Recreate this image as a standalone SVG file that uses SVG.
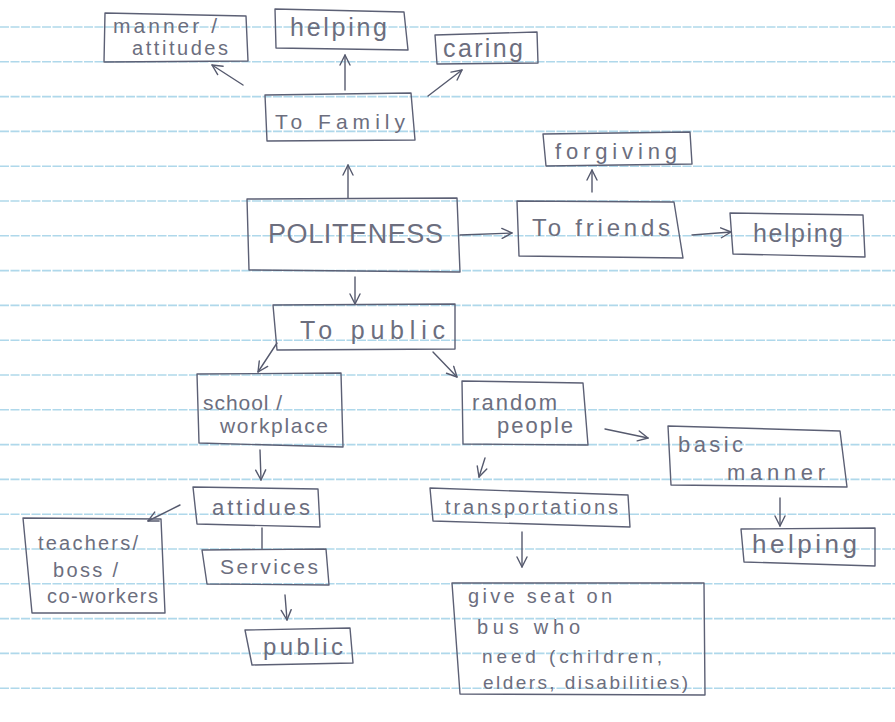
<svg xmlns="http://www.w3.org/2000/svg" width="895" height="722" viewBox="0 0 895 722">
<defs>
<style>
.paper{stroke:#a2d2e8;stroke-width:1.6;stroke-dasharray:9 1.5;opacity:.85}
.box{fill:none;stroke:#5c6075;stroke-width:1.4;stroke-linejoin:round}
.t{font-family:"Liberation Sans","DejaVu Sans",sans-serif;fill:#6c6e7e}
.c{fill:none;stroke:#565a6e;stroke-width:1.4;stroke-linecap:round}
</style>
<marker id="ah" viewBox="0 0 12 12" refX="11" refY="6" markerWidth="12" markerHeight="12" markerUnits="userSpaceOnUse" orient="auto">
<path d="M1,1 L11,6 L1,11" fill="none" stroke="#565a6e" stroke-width="1.4" stroke-linecap="round" stroke-linejoin="round"/>
</marker>
</defs>
<rect x="0" y="0" width="895" height="722" fill="#ffffff"/>
<g id="paper-lines">
<line class="paper" x1="0" y1="27" x2="895" y2="27"/>
<line class="paper" x1="0" y1="61.8" x2="895" y2="61.8"/>
<line class="paper" x1="0" y1="96.6" x2="895" y2="96.6"/>
<line class="paper" x1="0" y1="131.4" x2="895" y2="131.4"/>
<line class="paper" x1="0" y1="166.2" x2="895" y2="166.2"/>
<line class="paper" x1="0" y1="201" x2="895" y2="201"/>
<line class="paper" x1="0" y1="235.8" x2="895" y2="235.8"/>
<line class="paper" x1="0" y1="270.6" x2="895" y2="270.6"/>
<line class="paper" x1="0" y1="305.4" x2="895" y2="305.4"/>
<line class="paper" x1="0" y1="340.2" x2="895" y2="340.2"/>
<line class="paper" x1="0" y1="375" x2="895" y2="375"/>
<line class="paper" x1="0" y1="409.8" x2="895" y2="409.8"/>
<line class="paper" x1="0" y1="444.6" x2="895" y2="444.6"/>
<line class="paper" x1="0" y1="479.4" x2="895" y2="479.4"/>
<line class="paper" x1="0" y1="514.2" x2="895" y2="514.2"/>
<line class="paper" x1="0" y1="549" x2="895" y2="549"/>
<line class="paper" x1="0" y1="583.8" x2="895" y2="583.8"/>
<line class="paper" x1="0" y1="618.6" x2="895" y2="618.6"/>
<line class="paper" x1="0" y1="653.4" x2="895" y2="653.4"/>
<line class="paper" x1="0" y1="688.2" x2="895" y2="688.2"/>
</g>
<g id="connectors">
<path class="c" d="M243,85 L212,65" marker-end="url(#ah)"/>
<path class="c" d="M345,90 L345,55" marker-end="url(#ah)"/>
<path class="c" d="M428,96 L462,70" marker-end="url(#ah)"/>
<path class="c" d="M348,198 L348,165" marker-end="url(#ah)"/>
<path class="c" d="M460,235 L512,233" marker-end="url(#ah)"/>
<path class="c" d="M592,192 L592,170" marker-end="url(#ah)"/>
<path class="c" d="M692,235 L731,232" marker-end="url(#ah)"/>
<path class="c" d="M355,277 L355,304" marker-end="url(#ah)"/>
<path class="c" d="M277,343 L258,372" marker-end="url(#ah)"/>
<path class="c" d="M433,352 L457,377" marker-end="url(#ah)"/>
<path class="c" d="M260,450 L261,480" marker-end="url(#ah)"/>
<path class="c" d="M485,458 L479,477" marker-end="url(#ah)"/>
<path class="c" d="M605,429 L648,438" marker-end="url(#ah)"/>
<path class="c" d="M180,505 L148,521" marker-end="url(#ah)"/>
<path class="c" d="M262,528 L262,549"/>
<path class="c" d="M285,595 L287,620" marker-end="url(#ah)"/>
<path class="c" d="M522,532 L522,567" marker-end="url(#ah)"/>
<path class="c" d="M780,498 L780,526" marker-end="url(#ah)"/>
</g>
<g id="n-manner">
<path class="box" d="M105,13 L246,16 L248,61 L104,62 Z"/>
<text class="t" x="113" y="33" font-size="21" textLength="104" lengthAdjust="spacing">manner /</text>
<text class="t" x="132" y="55" font-size="20" textLength="96" lengthAdjust="spacing">attitudes</text>
</g>
<g id="n-helping-top">
<path class="box" d="M275,9 L404,12 L408,50 L276,48 Z"/>
<text class="t" x="290" y="36" font-size="25" textLength="97" lengthAdjust="spacing">helping</text>
</g>
<g id="n-caring">
<path class="box" d="M435,35 L537,32 L538,63 L437,64 Z"/>
<text class="t" x="443" y="57" font-size="25" textLength="80" lengthAdjust="spacing">caring</text>
</g>
<g id="n-to-family">
<path class="box" d="M265,95 L411,93 L415,140 L267,141 Z"/>
<text class="t" x="275" y="129" font-size="21" textLength="130" lengthAdjust="spacing">To Family</text>
</g>
<g id="n-forgiving">
<path class="box" d="M543,134 L690,132 L692,164 L546,166 Z"/>
<text class="t" x="555" y="159" font-size="22" textLength="122" lengthAdjust="spacing">forgiving</text>
</g>
<g id="n-politeness">
<path class="box" d="M247,199 L457,198 L460,272 L249,270 Z"/>
<text class="t" x="268" y="243" font-size="27" textLength="175" lengthAdjust="spacing">POLITENESS</text>
</g>
<g id="n-to-friends">
<path class="box" d="M517,201 L674,202 L683,258 L519,256 Z"/>
<text class="t" x="532" y="236" font-size="24" textLength="138" lengthAdjust="spacing">To friends</text>
</g>
<g id="n-helping-friends">
<path class="box" d="M730,213 L863,215 L865,257 L733,254 Z"/>
<text class="t" x="753" y="242" font-size="25" textLength="90" lengthAdjust="spacing">helping</text>
</g>
<g id="n-to-public">
<path class="box" d="M273,305 L455,304 L455,349 L277,350 Z"/>
<text class="t" x="300" y="339" font-size="25" textLength="145" lengthAdjust="spacing">To public</text>
</g>
<g id="n-school">
<path class="box" d="M197,374 L341,373 L343,447 L199,443 Z"/>
<text class="t" x="203" y="410" font-size="21" textLength="79" lengthAdjust="spacing">school /</text>
<text class="t" x="220" y="433" font-size="21" textLength="108" lengthAdjust="spacing">workplace</text>
</g>
<g id="n-random">
<path class="box" d="M462,381 L583,383 L588,445 L463,444 Z"/>
<text class="t" x="472" y="410" font-size="22" textLength="85" lengthAdjust="spacing">random</text>
<text class="t" x="497" y="433" font-size="22" textLength="76" lengthAdjust="spacing">people</text>
</g>
<g id="n-basic">
<path class="box" d="M668,426 L840,431 L847,487 L671,485 Z"/>
<text class="t" x="678" y="452" font-size="22" textLength="65" lengthAdjust="spacing">basic</text>
<text class="t" x="727" y="480" font-size="22" textLength="98" lengthAdjust="spacing">manner</text>
</g>
<g id="n-transportations">
<path class="box" d="M430,488 L628,495 L630,527 L433,521 Z"/>
<text class="t" x="445" y="514" font-size="20" textLength="173" lengthAdjust="spacing">transportations</text>
</g>
<g id="n-helping-bottom">
<path class="box" d="M741,529 L875,528 L875,566 L744,562 Z"/>
<text class="t" x="752" y="553" font-size="26" textLength="105" lengthAdjust="spacing">helping</text>
</g>
<g id="n-attidues">
<path class="box" d="M193,487 L318,489 L320,527 L197,524 Z"/>
<text class="t" x="212" y="515" font-size="22" textLength="98" lengthAdjust="spacing">attidues</text>
</g>
<g id="n-teachers">
<path class="box" d="M23,518 L161,519 L165,613 L32,613 Z"/>
<text class="t" x="38" y="550" font-size="20" textLength="100" lengthAdjust="spacing">teachers/</text>
<text class="t" x="53" y="577" font-size="20" textLength="65" lengthAdjust="spacing">boss /</text>
<text class="t" x="47" y="603" font-size="20" textLength="111" lengthAdjust="spacing">co-workers</text>
</g>
<g id="n-services">
<path class="box" d="M202,550 L326,549 L329,585 L207,584 Z"/>
<text class="t" x="220" y="574" font-size="21" textLength="98" lengthAdjust="spacing">Services</text>
</g>
<g id="n-public">
<path class="box" d="M245,630 L350,628 L353,663 L252,665 Z"/>
<text class="t" x="263" y="655" font-size="24" textLength="80" lengthAdjust="spacing">public</text>
</g>
<g id="n-give-seat">
<path class="box" d="M452,583 L704,583 L705,695 L460,694 Z"/>
<text class="t" x="468" y="603" font-size="20" textLength="144" lengthAdjust="spacing">give seat on</text>
<text class="t" x="477" y="634" font-size="20" textLength="103" lengthAdjust="spacing">bus who</text>
<text class="t" x="482" y="663" font-size="19" textLength="180" lengthAdjust="spacing">need (children,</text>
<text class="t" x="483" y="689" font-size="19" textLength="205" lengthAdjust="spacing">elders, disabilities)</text>
</g>
</svg>
